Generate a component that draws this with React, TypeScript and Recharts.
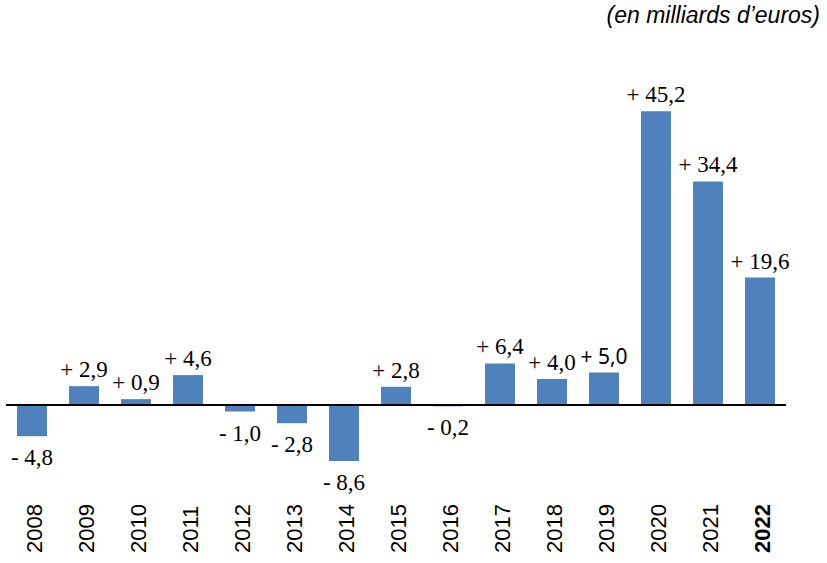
import React from "react";
import { BarChart, Bar, XAxis, YAxis, ReferenceLine, LabelList } from "recharts";

const years = ["2008", "2009", "2010", "2011", "2012", "2013", "2014", "2015", "2016", "2017", "2018", "2019", "2020", "2021", "2022"];
const values = [-4.8, 2.9, 0.9, 4.6, -1.0, -2.8, -8.6, 2.8, -0.2, 6.4, 4.0, 5.0, 45.2, 34.4, 19.6];

const data = years.map((y, i) => ({ year: y, value: values[i] }));

const fmt = (v: number) => (v < 0 ? "- " : "+ ") + Math.abs(v).toFixed(1).replace(".", ",");

const YearTick = (props: any) => {
  const { x, y, payload } = props;
  const bold = payload.value === "2022";
  return (
    <text
      transform={`translate(${x + 10}, ${y + 75}) rotate(-90)`}
      textAnchor="start"
      fontFamily="'Liberation Sans', Arial, sans-serif"
      fontSize={22}
      fontWeight={bold ? "bold" : "normal"}
      fill="#000"
    >
      {payload.value}
    </text>
  );
};

const ValueLabel = (props: any) => {
  const { x, y, width, height, value } = props;
  const top = Math.min(y, y + height);
  const bottom = Math.max(y, y + height);
  const cx = x + width / 2;
  const neg = value < 0;
  const sans = value === 5.0;
  return (
    <text
      x={cx}
      y={neg ? bottom + 29 : top - 9}
      textAnchor="middle"
      fontFamily={sans ? "'Noto Sans', 'Liberation Sans', sans-serif" : "'Liberation Serif', 'Times New Roman', serif"}
      fontSize={sans ? 21 : 23}
      fill="#000"
    >
      {fmt(value)}
    </text>
  );
};

export default function App() {
  return (
    <div style={{ position: "absolute", left: 0, top: 0, width: 827, height: 563, background: "#fff" }}>
      <div
        style={{
          position: "absolute",
          right: 7,
          top: 3,
          lineHeight: "24px",
          fontFamily: "'Liberation Sans', Arial, sans-serif",
          fontStyle: "italic",
          fontSize: 23,
          color: "#000",
          whiteSpace: "nowrap",
        }}
      >
        (en milliards d’euros)
      </div>
      <BarChart
        width={827}
        height={563}
        data={data}
        margin={{ top: 80, right: 41, bottom: 0, left: 6 }}
        barSize={30}
      >
        <XAxis
          dataKey="year"
          axisLine={false}
          tickLine={false}
          height={93}
          interval={0}
          tick={<YearTick />}
        />
        <YAxis hide domain={[-10, 50]} />
        <Bar dataKey="value" fill="#4F81BD" isAnimationActive={false}>
          <LabelList dataKey="value" content={<ValueLabel />} />
        </Bar>
        <ReferenceLine y={0} stroke="#000" strokeWidth={2} />
      </BarChart>
    </div>
  );
}
